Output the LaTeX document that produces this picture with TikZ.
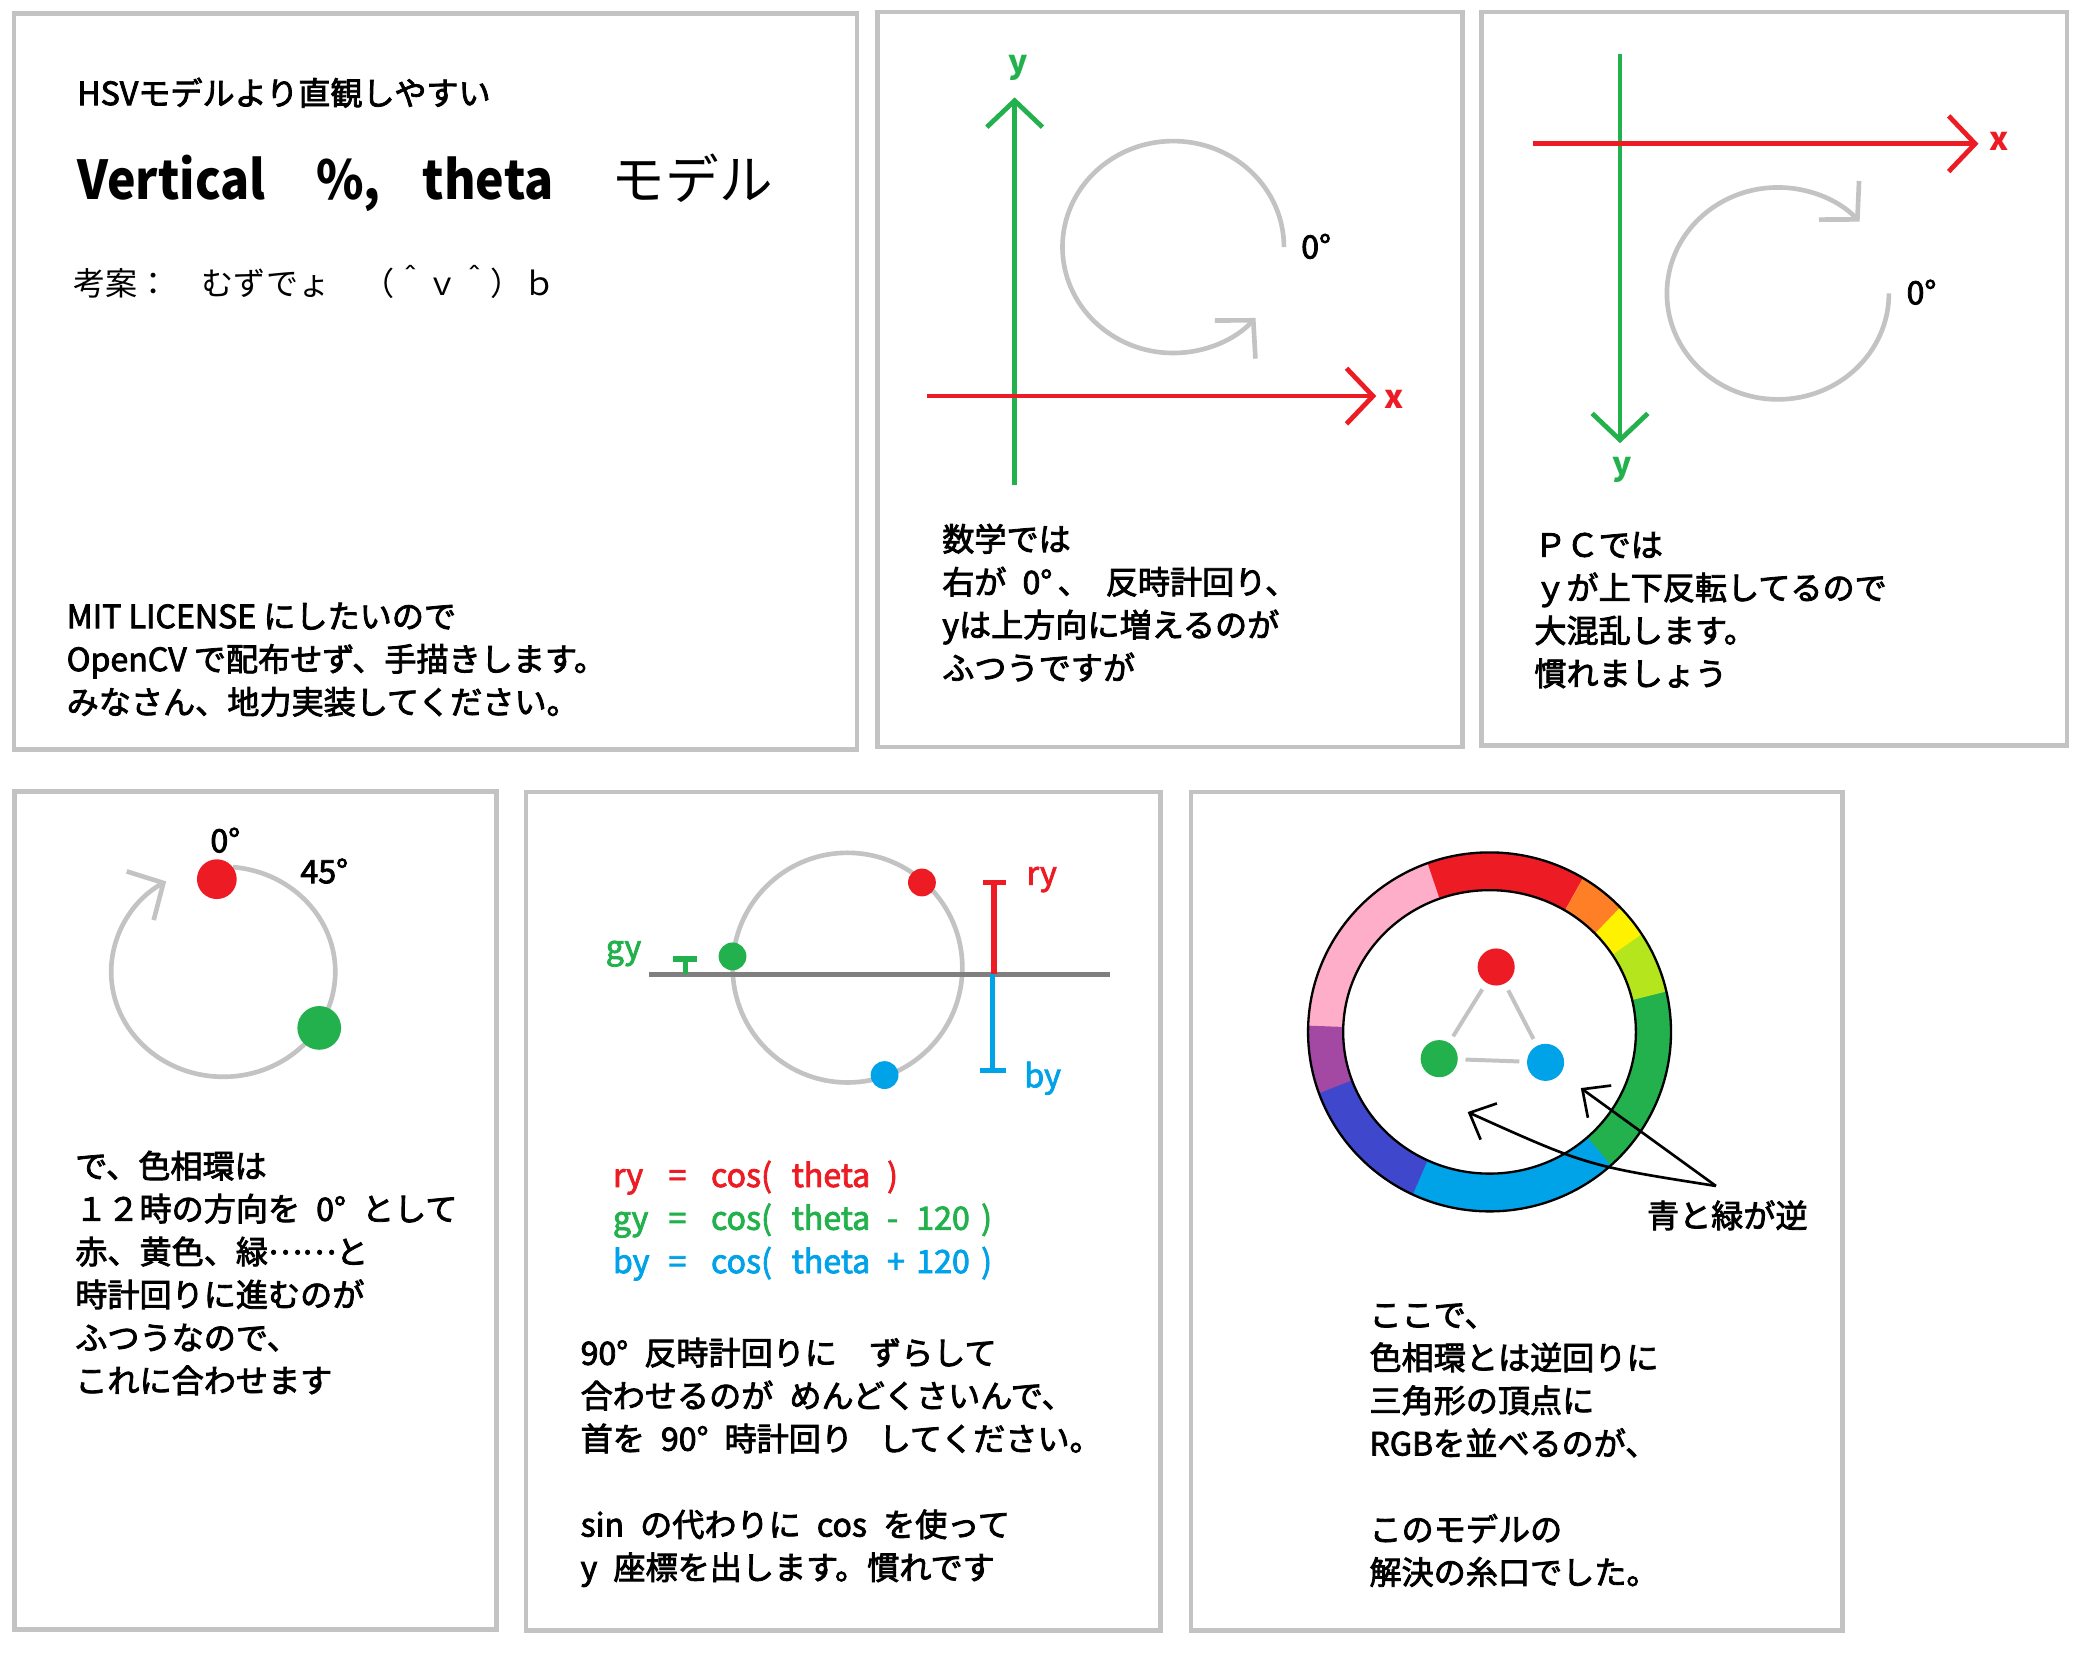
\documentclass[tikz,border=0pt]{standalone}
\usepackage{graphicx}
\usepackage{fontspec}
\setmainfont{Noto Sans CJK JP}[UprightFeatures={FakeBold=2.5}]
\newfontfamily\thinfont{Noto Sans CJK JP}
\usetikzlibrary{positioning,arrows.meta}

\definecolor{pred}{HTML}{ED1C24}
\definecolor{pgreen}{HTML}{22B14C}
\definecolor{pblue}{HTML}{00A2E8}
\definecolor{pgray}{HTML}{C3C3C3}
\definecolor{pdark}{HTML}{7F7F7F}
\definecolor{porange}{HTML}{FF7F27}
\definecolor{pyellow}{HTML}{FFF200}
\definecolor{plime}{HTML}{B5E61D}
\definecolor{ppink}{HTML}{FFAEC9}
\definecolor{ppurple}{HTML}{A349A4}
\definecolor{pindigo}{HTML}{3F48CC}

% one coloured piece of the hue ring (angles counter clockwise from the right)
\newcommand{\ringpart}[3]{%
  \fill[#1] (#2:27.4mm and 27.1mm)
    arc[start angle=#2, end angle=#3, x radius=27.4mm, y radius=27.1mm]
    -- (#3:22.1mm and 21.4mm)
    arc[start angle=#3, end angle=#2, x radius=22.1mm, y radius=21.4mm] -- cycle;}
% columns of the cos lines
\newcommand{\cosrow}[4]{\makebox[8.4mm][l]{#1}\makebox[6.4mm][l]{=}\makebox[12.2mm][l]{cos(}\makebox[14.4mm][l]{theta}\makebox[4.4mm][l]{#2}\makebox[9.8mm][l]{#3}#4}
% narrow bold latin for the title
\newcommand{\narrow}[1]{\scalebox{0.9}[1]{\textbf{#1}}}

\begin{document}
\begin{tikzpicture}[x=0.2mm, y=-0.2mm,
  panel/.style={draw=pgray, line width=0.7mm},
  txt/.style={anchor=west, inner sep=0pt, align=left, font=\fontsize{13.8pt}{18.44pt}\selectfont},
  axlab/.style={inner sep=0pt, font=\fontsize{13.8pt}{18.44pt}\selectfont\bfseries},
  axisline/.style={line width=0.72mm, -{Straight Barb[length=4mm, width=8.4mm]}},
  spin/.style={draw=pgray, line width=0.7mm, -{Straight Barb[length=4mm, width=8.4mm]}},
  disc/.style={circle, inner sep=0pt},
  edgeline/.style={draw=pgray, line width=0.6mm, shorten <=1.1mm, shorten >=1.1mm},
  pointer/.style={line width=0.4mm, -{Straight Barb[length=3.2mm, width=6mm]}},
  bar/.style={line width=0.8mm}]

  \fill[white] (0,0) rectangle (1568,1248);
  \useasboundingbox (0,0) rectangle (1568,1248);

  % panel frames
  \draw[panel] (10.5,10.3) rectangle (647,566);
  \draw[panel] (662.5,9) rectangle (1104,564);
  \draw[panel] (1118.5,9) rectangle (1560.5,563);
  \draw[panel] (11,597.5) rectangle (375,1230);
  \draw[panel] (397,598) rectangle (876,1231);
  \draw[panel] (899,598) rectangle (1391,1231);

  % panel 1
  \node[txt] (sub) at (58,70) {HSVモデルより直観しやすい};
  \node[anchor=west, inner sep=0pt, font=\fontsize{23pt}{28pt}\selectfont] (title) at (58,138)
    {\narrow{Vertical}\hspace{7.6mm}\narrow{\%,}\hspace{6.4mm}\narrow{theta}\hspace{8.8mm}{\thinfont モデル}};
  \node[txt, font=\fontsize{13.8pt}{18.44pt}\thinfont] (author) at (55,213) {考案：　むずでょ　（＾ｖ＾）ｂ};
  \node[txt] (license) at (50,498) {MIT LICENSE にしたいので\\OpenCV で配布せず、手描きします。\\みなさん、地力実装してください。};

  % panel 2: math axes
  \coordinate (p2yb) at (766,366);
  \coordinate (p2yt) at (766,73.5);
  \coordinate (p2xl) at (700,299);
  \coordinate (p2xr) at (1039,299);
  \draw[pgreen, axisline] (p2yb) -- (p2yt);
  \draw[pred, axisline] (p2xl) -- (p2xr);
  \node[axlab, pgreen] (p2ylab) at (768.7,51.5) {y};
  \node[axlab, pred] (p2xlab) at (1052.7,301.5) {x};
  \draw[spin] (969.3,186.5) arc[start angle=0, end angle=318, x radius=16.72mm, y radius=16mm];
  \node[txt] (p2deg) at (982,186) {0°};
  \node[txt] (p2txt) at (711,455) {数学では\\右が\enspace 0°\,、\enspace 反時計回り、\\yは上方向に増えるのが\\ふつうですが};

  % panel 3: screen axes
  \coordinate (p3yt) at (1223,40.5);
  \coordinate (p3yb) at (1223,334.6);
  \coordinate (p3xl) at (1157,108.5);
  \coordinate (p3xr) at (1493.6,108.5);
  \draw[pgreen, axisline] (p3yt) -- (p3yb);
  \draw[pred, axisline] (p3xl) -- (p3xr);
  \node[axlab, pgreen] (p3ylab) at (1224.5,354.8) {y};
  \node[axlab, pred] (p3xlab) at (1508.9,106.6) {x};
  \draw[spin] (1426,221.5) arc[start angle=0, end angle=-317.4, x radius=16.76mm, y radius=16mm];
  \node[txt] (p3deg) at (1439,220.6) {0°};
  \node[txt] (p3txt) at (1158,460.6) {ＰＣでは\\ｙが上下反転してるので\\大混乱します。\\慣れましょう};

  % panel 4: hue circle
  \draw[spin] (175.9,654.6) arc[start angle=85, end angle=-239.4, x radius=16.92mm, y radius=15.86mm];
  \node[disc, fill=pred, minimum size=6mm] (p4red) at (163.7,663.7) {};
  \node[disc, fill=pgreen, minimum size=6.6mm] (p4green) at (241,776) {};
  \node[txt] (p4deg) at (158.5,634.3) {0°};
  \node[txt] (p4half) at (226.5,657.6) {45°};
  \node[txt] (p4txt) at (56.5,961) {で、色相環は\\１２時の方向を\enspace 0°\enspace として\\赤、黄色、緑\raisebox{0.3em}{……}と\\時計回りに進むのが\\ふつうなので、\\これに合わせます};

  % panel 5: cos
  \draw[pgray, line width=0.7mm] (639.8,730.5) circle[radius=17.34mm];
  \coordinate (p5l) at (490,735.6);
  \coordinate (p5r) at (837.6,735.6);
  \draw[pdark, line width=0.65mm] (p5l) -- (p5r);
  \node[disc, fill=pred, minimum size=4.2mm] (p5red) at (696,666.2) {};
  \node[disc, fill=pgreen, minimum size=4.2mm] (p5green) at (553,722) {};
  \node[disc, fill=pblue, minimum size=4.2mm] (p5blue) at (667.8,811.6) {};
  \coordinate (p5rb) at (750.5,735.6);
  \coordinate (p5rt) at (750.5,664.1);
  \coordinate (p5bb) at (749.5,735.6);
  \coordinate (p5bt) at (749.5,810);
  \coordinate (p5gb) at (517.4,735.6);
  \coordinate (p5gt) at (517.4,722);
  \draw[pred, bar, -{Bar[width=3.5mm]}] (p5rb) -- (p5rt);
  \draw[pblue, bar, -{Bar[width=3.9mm]}] (p5bb) -- (p5bt);
  \draw[pgreen, bar, -{Bar[width=3.6mm]}] (p5gb) -- (p5gt);
  \node[txt, pred] (p5rlab) at (774.7,664) {ry};
  \node[txt, pblue] (p5blab) at (773,814) {by};
  \node[txt, pgreen] (p5glab) at (457,720) {gy};
  \node[txt, pred] (p5eqr) at (462.4,889) {\cosrow{ry}{)}{}{}};
  \node[txt, pgreen] (p5eqg) at (462.4,921.5) {\cosrow{gy}{-}{120}{)}};
  \node[txt, pblue] (p5eqb) at (462.4,954) {\cosrow{by}{+}{120}{)}};
  \node[txt] (p5txt) at (438,1104) {90°\enspace 反時計回りに　ずらして\\合わせるのが\enspace めんどくさいんで、\\首を\enspace 90°\enspace 時計回り\hspace{0.8em}してください。\\ ~\\sin\enspace の代わりに\enspace cos\enspace を使って\\y\enspace 座標を出します。慣れです};

  % panel 6: hue ring and RGB triangle
  \begin{scope}[shift={(1124.5,779)}]
    \ringpart{pred}{59}{110.5}
    \ringpart{ppink}{110}{178.5}
    \ringpart{ppurple}{178}{200.5}
    \ringpart{pindigo}{200}{245.5}
    \ringpart{pblue}{245}{312.5}
    \ringpart{pgreen}{312}{373.5}
    \ringpart{plime}{373}{393.5}
    \ringpart{pyellow}{393}{404.5}
    \ringpart{porange}{404}{419}
    \draw[line width=0.35mm] (0,0) ellipse[x radius=27.4mm, y radius=27.1mm];
    \draw[line width=0.35mm] (0,0) ellipse[x radius=22.1mm, y radius=21.4mm];
  \end{scope}
  \node[disc, fill=pred, minimum size=5.6mm] (p6red) at (1129.5,730) {};
  \node[disc, fill=pgreen, minimum size=5.6mm] (p6green) at (1086.5,799.2) {};
  \node[disc, fill=pblue, minimum size=5.6mm] (p6blue) at (1166.8,802) {};
  \draw[edgeline] (p6red) -- (p6green);
  \draw[edgeline] (p6red) -- (p6blue);
  \draw[edgeline] (p6green) -- (p6blue);
  \coordinate (p6from) at (1295.4,895.3);
  \coordinate (p6tob) at (1193.4,821.4);
  \coordinate (p6tog) at (1108,839.5);
  \draw[pointer] (p6from) -- (p6tob);
  \draw[pointer] (p6from) .. controls (1198,880) .. (p6tog);
  \node[txt, anchor=center] (p6lab) at (1304,917.5) {青と緑が逆};
  \node[txt] (p6txt) at (1033.5,1091) {ここで、\\色相環とは逆回りに\\三角形の頂点に\\RGBを並べるのが、\\ ~\\このモデルの\\解決の糸口でした。};
\end{tikzpicture}
\end{document}
